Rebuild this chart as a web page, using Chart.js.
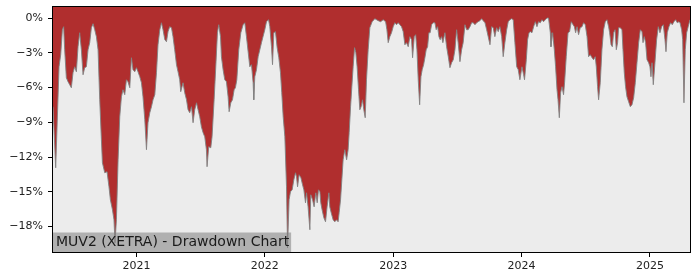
<!DOCTYPE html>
<html>
<head>
<meta charset="utf-8">
<script src="https://cdn.jsdelivr.net/npm/chart.js@4"></script>
<style>
  html, body { margin: 0; padding: 0; background: #ffffff; }
  #wrap { width: 700px; height: 280px; }
</style>
</head>
<body>
<div id="wrap"><canvas id="c" width="700" height="280"></canvas></div>
<script>
const chartLabel = "MUV2 (XETRA) - Drawdown Chart";
const yearTicks = [2021, 2022, 2023, 2024, 2025];
const pctTicks = [0, -3, -6, -9, -12, -15, -18];

// dates in decimal years
const dates = [
2020.350,2020.371,2020.397,2020.410,2020.423,2020.433,2020.441,2020.454,2020.467,2020.480,
2020.493,2020.506,2020.519,2020.532,2020.545,2020.558,2020.571,2020.584,2020.597,2020.610,
2020.623,2020.636,2020.649,2020.662,2020.675,2020.688,2020.701,2020.714,2020.727,2020.735,
2020.753,2020.771,2020.786,2020.797,2020.813,2020.825,2020.833,2020.844,2020.857,2020.870,
2020.883,2020.895,2020.909,2020.922,2020.934,2020.948,2020.961,2020.973,2020.987,2021.000,
2021.012,2021.026,2021.039,2021.051,2021.065,2021.078,2021.090,2021.104,2021.117,2021.129,
2021.143,2021.156,2021.168,2021.182,2021.195,2021.207,2021.221,2021.234,2021.246,2021.259,
2021.273,2021.285,2021.298,2021.312,2021.324,2021.337,2021.345,2021.363,2021.376,2021.390,
2021.402,2021.415,2021.429,2021.441,2021.454,2021.468,2021.480,2021.493,2021.506,2021.519,
2021.532,2021.545,2021.550,2021.563,2021.579,2021.589,2021.605,2021.618,2021.631,2021.641,
2021.655,2021.662,2021.675,2021.688,2021.701,2021.714,2021.722,2021.735,2021.748,2021.761,
2021.771,2021.782,2021.797,2021.813,2021.831,2021.844,2021.857,2021.870,2021.883,2021.896,
2021.909,2021.914,2021.922,2021.935,2021.948,2021.961,2021.974,2021.986,2022.000,2022.013,
2022.029,2022.039,2022.052,2022.060,2022.070,2022.083,2022.096,2022.109,2022.122,2022.132,
2022.143,2022.156,2022.169,2022.177,2022.189,2022.200,2022.213,2022.226,2022.239,2022.247,
2022.255,2022.267,2022.281,2022.294,2022.304,2022.317,2022.325,2022.337,2022.351,2022.358,
2022.372,2022.384,2022.397,2022.408,2022.418,2022.429,2022.436,2022.446,2022.460,2022.473,
2022.485,2022.499,2022.506,2022.517,2022.532,2022.545,2022.559,2022.571,2022.579,2022.590,
2022.600,2022.610,2022.623,2022.637,2022.649,2022.657,2022.668,2022.678,2022.688,2022.699,
2022.709,2022.719,2022.730,2022.740,2022.750,2022.761,2022.771,2022.782,2022.792,2022.805,
2022.818,2022.836,2022.857,2022.883,2022.902,2022.922,2022.941,2022.951,2022.961,2022.974,
2022.987,2023.000,2023.013,2023.026,2023.039,2023.052,2023.065,2023.078,2023.091,2023.104,
2023.117,2023.130,2023.143,2023.151,2023.164,2023.175,2023.185,2023.195,2023.206,2023.216,
2023.226,2023.237,2023.247,2023.257,2023.268,2023.278,2023.288,2023.299,2023.312,2023.325,
2023.335,2023.346,2023.356,2023.366,2023.377,2023.387,2023.403,2023.416,2023.429,2023.442,
2023.455,2023.468,2023.481,2023.494,2023.506,2023.520,2023.533,2023.545,2023.559,2023.572,
2023.584,2023.598,2023.611,2023.623,2023.637,2023.650,2023.662,2023.676,2023.689,2023.701,
2023.715,2023.728,2023.740,2023.754,2023.767,2023.779,2023.792,2023.806,2023.818,2023.831,
2023.845,2023.857,2023.870,2023.884,2023.896,2023.909,2023.923,2023.935,2023.948,2023.962,
2023.974,2023.987,2024.003,2024.016,2024.023,2024.037,2024.047,2024.058,2024.068,2024.081,
2024.094,2024.107,2024.120,2024.132,2024.146,2024.159,2024.171,2024.185,2024.198,2024.210,
2024.224,2024.229,2024.242,2024.255,2024.265,2024.276,2024.284,2024.294,2024.304,2024.315,
2024.327,2024.335,2024.348,2024.362,2024.374,2024.387,2024.401,2024.411,2024.421,2024.432,
2024.444,2024.457,2024.471,2024.483,2024.496,2024.510,2024.522,2024.535,2024.549,2024.561,
2024.574,2024.582,2024.592,2024.600,2024.613,2024.626,2024.639,2024.652,2024.665,2024.678,
2024.686,2024.697,2024.707,2024.717,2024.728,2024.738,2024.748,2024.756,2024.769,2024.782,
2024.790,2024.800,2024.810,2024.821,2024.834,2024.847,2024.860,2024.873,2024.886,2024.899,
2024.912,2024.925,2024.938,2024.946,2024.956,2024.966,2024.977,2024.990,2025.000,2025.008,
2025.016,2025.026,2025.039,2025.052,2025.065,2025.078,2025.091,2025.104,2025.117,2025.125,
2025.135,2025.148,2025.161,2025.174,2025.187,2025.200,2025.213,2025.226,2025.234,2025.247,
2025.255,2025.265,2025.275,2025.286,2025.298,2025.312
];

// drawdown in percent
const drawdown = [
-7.66,-12.93,-4.21,-3.17,-1.01,-0.75,-2.74,-5.16,-5.50,-5.76,
-6.02,-4.72,-4.21,-4.64,-2.48,-1.27,-2.74,-4.90,-4.29,-4.21,
-2.74,-2.13,-0.84,-0.49,-1.01,-1.61,-2.74,-7.06,-10.51,-12.50,
-13.36,-13.27,-14.57,-15.69,-16.55,-17.42,-19.41,-17.42,-12.24,-8.52,
-6.80,-6.19,-6.62,-5.33,-5.50,-6.02,-3.43,-4.46,-4.64,-4.29,
-4.64,-5.07,-5.59,-6.80,-8.78,-11.37,-9.04,-8.18,-7.66,-7.06,
-6.62,-4.72,-2.31,-1.01,-0.41,-1.01,-1.87,-2.05,-1.18,-0.75,
-0.84,-1.61,-2.74,-4.03,-4.64,-5.33,-6.36,-5.59,-6.45,-7.06,
-7.92,-8.18,-7.66,-9.04,-7.92,-7.32,-7.92,-8.52,-9.39,-9.90,
-10.25,-11.37,-12.84,-11.11,-11.20,-10.25,-7.06,-4.21,-1.27,-0.58,
-1.61,-3.34,-4.46,-5.33,-5.50,-6.80,-8.09,-7.32,-7.06,-6.19,
-6.02,-5.33,-2.74,-1.27,-0.58,-0.41,-1.61,-2.91,-4.21,-4.03,
-5.59,-7.06,-5.07,-4.46,-3.34,-2.74,-2.13,-1.61,-1.01,-0.32,
-0.15,-0.75,-2.48,-4.03,-1.27,-1.18,-2.56,-3.43,-4.72,-6.45,
-8.52,-10.25,-14.57,-19.84,-15.69,-15.00,-14.83,-13.96,-13.36,-13.70,
-14.57,-13.53,-13.79,-14.40,-14.83,-15.95,-15.09,-16.30,-18.28,-15.26,
-15.69,-16.30,-15.09,-15.95,-14.83,-15.00,-15.95,-16.55,-17.25,-17.59,
-16.30,-15.09,-16.30,-16.81,-17.42,-17.59,-17.42,-17.59,-16.81,-15.69,
-13.96,-12.24,-11.37,-12.24,-11.37,-9.90,-7.66,-5.93,-4.21,-2.56,
-3.00,-4.21,-6.19,-7.92,-7.66,-7.06,-7.92,-8.61,-5.33,-2.74,
-0.84,-0.32,-0.06,-0.23,-0.32,-0.15,-0.32,-1.01,-2.13,-1.61,
-1.27,-0.75,-0.41,-0.58,-0.41,-0.58,-0.75,-1.18,-2.31,-2.13,
-2.48,-1.61,-1.87,-3.43,-1.61,-1.44,-2.74,-5.33,-7.49,-5.07,
-4.46,-4.03,-3.43,-2.74,-2.48,-1.27,-1.27,-0.58,-0.41,-0.41,
-1.01,-0.75,-1.61,-1.87,-1.61,-2.13,-1.27,-2.48,-3.34,-4.29,
-3.86,-3.60,-2.74,-1.01,-2.13,-3.77,-2.74,-2.13,-0.58,-1.01,
-1.01,-0.75,-0.41,-0.41,-0.58,-0.41,-0.32,-0.23,-0.06,-0.23,
-0.41,-1.01,-1.61,-2.31,-0.75,-0.84,-1.61,-0.84,-1.18,-0.75,
-1.61,-3.34,-2.13,-1.01,-0.32,-0.15,-0.06,-0.15,-2.13,-4.21,
-4.46,-5.33,-4.21,-4.90,-5.33,-3.60,-1.87,-1.27,-1.18,-1.27,
-0.75,-0.32,-0.75,-0.32,-0.41,-0.15,-0.32,-0.15,0,0,
-1.27,-2.48,-1.27,-2.74,-4.21,-6.19,-7.06,-8.61,-6.45,-5.93,
-6.62,-5.59,-3.34,-1.27,-1.18,-0.32,-0.58,-0.75,-1.27,-0.75,
-1.44,-0.84,-0.75,-0.41,-0.58,-1.61,-3.34,-3.17,-3.43,-3.60,
-3.34,-4.21,-5.93,-7.06,-5.59,-2.74,-1.01,-0.32,-0.15,-0.75,
-1.27,-2.31,-2.48,-1.27,-1.01,-2.74,-2.13,-0.84,-0.84,-1.01,
-2.74,-4.72,-5.93,-6.80,-7.23,-7.66,-7.49,-6.88,-5.59,-3.86,
-2.13,-1.01,-1.18,-2.13,-1.61,-2.13,-3.60,-3.86,-4.21,-5.07,
-3.86,-5.76,-3.86,-1.87,-0.75,-1.27,-0.75,-0.58,-1.87,-2.91,
-1.27,-0.75,-0.41,-0.58,-0.32,-0.15,-0.41,-0.32,-0.41,-1.01,
-1.87,-7.32,-2.74,-1.27,-0.75,-0.15
];

const points = dates.map((d, i) => ({ x: d, y: drawdown[i] }));

const frameAndLabel = {
  id: 'frameAndLabel',
  beforeDatasetsDraw(chart) {
    const { ctx, chartArea: a } = chart;
    ctx.save();
    ctx.fillStyle = '#ececec';
    ctx.fillRect(a.left, a.top, a.right - a.left, a.bottom - a.top);
    ctx.restore();
  },
  afterDatasetsDraw(chart) {
    const { ctx, chartArea: a } = chart;
    ctx.save();
    ctx.font = "14px 'DejaVu Sans'";
    const w = ctx.measureText(chartLabel).width;
    const h = 19.5;
    ctx.fillStyle = 'rgba(128,128,128,0.55)';
    ctx.fillRect(a.left, a.bottom - h, w + 5, h);
    ctx.fillStyle = '#1a1a1a';
    ctx.textBaseline = 'middle';
    ctx.fillText(chartLabel, a.left + 3, a.bottom - h / 2 + 0.5);
    ctx.restore();
  },
  afterDraw(chart) {
    const { ctx, chartArea: a } = chart;
    ctx.save();
    ctx.strokeStyle = '#000';
    ctx.lineWidth = 1;
    ctx.strokeRect(Math.round(a.left) - 0.5, Math.round(a.top) - 0.5,
                   Math.round(a.right - a.left) + 1, Math.round(a.bottom - a.top) + 1);
    ctx.restore();
  }
};

new Chart(document.getElementById('c'), {
  type: 'line',
  data: {
    datasets: [{
      data: points,
      borderColor: 'rgba(130,130,130,0.9)',
      borderWidth: 1,
      backgroundColor: '#b02e2e',
      fill: 'end',
      pointRadius: 0,
      tension: 0
    }]
  },
  options: {
    responsive: false,
    devicePixelRatio: 1,
    animation: false,
    layout: { padding: { top: 7, right: 10, left: 0, bottom: 0 } },
    plugins: { legend: { display: false }, tooltip: { enabled: false } },
    scales: {
      x: {
        type: 'linear',
        min: 2020.35,
        max: 2025.312,
        afterBuildTicks: (s) => { s.ticks = yearTicks.map(v => ({ value: v })); },
        afterFit: (s) => { s.height = 28; s.paddingLeft = 0; s.paddingRight = 0; },
        grid: { display: true, drawOnChartArea: false, drawTicks: true, tickLength: 5, color: '#000' },
        border: { display: true, color: '#000' },
        ticks: {
          color: '#222',
          font: { family: "'DejaVu Sans'", size: 11 },
          padding: 3,
          maxRotation: 0,
          autoSkip: false,
          callback: (v) => String(v)
        }
      },
      y: {
        type: 'linear',
        min: -20.2,
        max: 0.95,
        afterBuildTicks: (s) => { s.ticks = pctTicks.map(v => ({ value: v })); },
        afterFit: (s) => { s.width = 53; s.paddingTop = 0; s.paddingBottom = 0; },
        grid: { display: true, drawOnChartArea: false, drawTicks: true, tickLength: 5, color: '#000' },
        border: { display: true, color: '#000' },
        ticks: {
          color: '#222',
          font: { family: "'DejaVu Sans'", size: 11 },
          padding: 5,
          autoSkip: false,
          callback: (v) => (v === 0 ? '0%' : '\u2212' + Math.abs(v) + '%')
        }
      }
    }
  },
  plugins: [frameAndLabel]
});
</script>
</body>
</html>
